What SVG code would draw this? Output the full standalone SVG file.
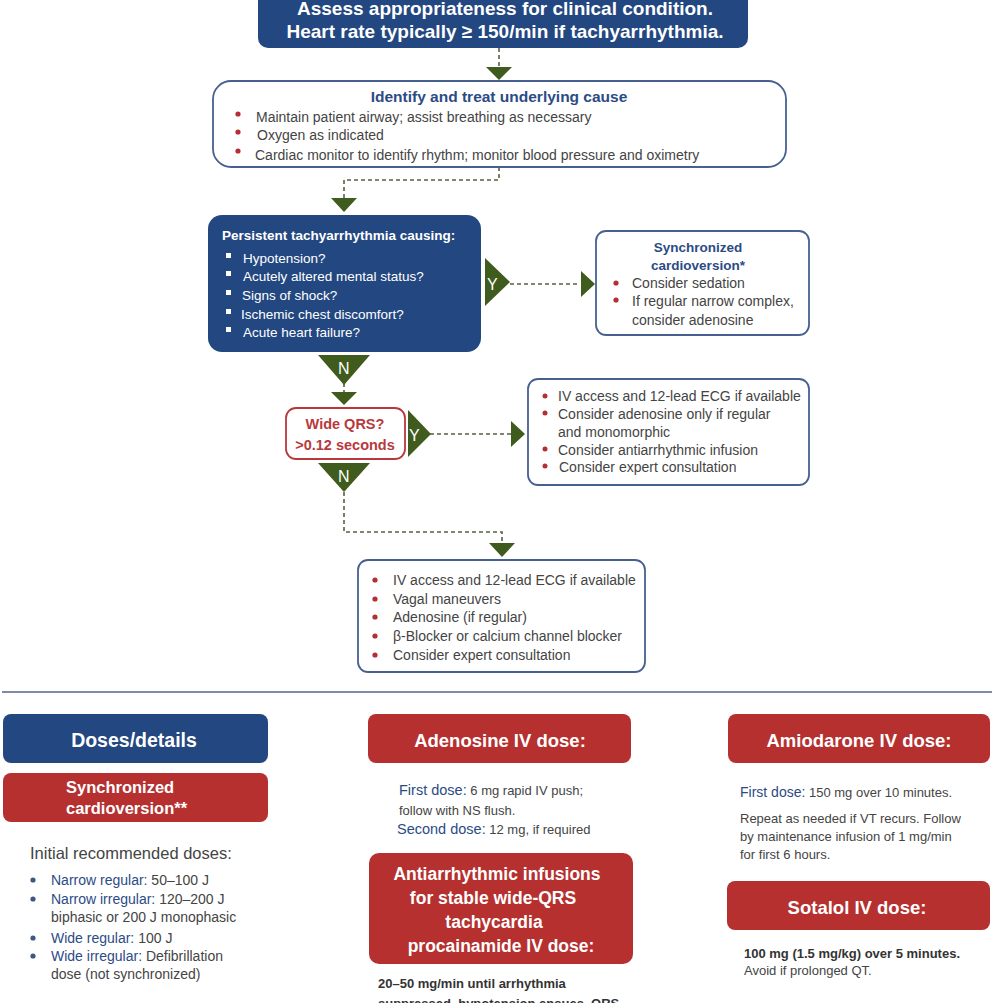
<svg xmlns="http://www.w3.org/2000/svg" width="1002" height="1003" viewBox="0 0 1002 1003">
<style>
text{font-family:"Liberation Sans","Noto Sans",sans-serif;}
.bluebox{fill:#234780;}
.redbox{fill:#b5302f;}
.obox{fill:#fff;stroke:#46618f;stroke-width:1.8;}
.qbox{fill:#fff;stroke:#b8393b;stroke-width:1.8;}
.tri{fill:#3f5b1e;}
.dash{fill:none;stroke:#55613f;stroke-width:1.6;stroke-dasharray:4,3;}
.wt{fill:#fff;font-weight:bold;}
.bt{fill:#2c4b85;font-weight:bold;}
.gt{fill:#444;font-size:14px;}
.rd{fill:#b32f35;}
.wd{fill:#fff;}
.lbl{fill:#2c4b85;}
.tl{fill:#fff;font-size:16px;}
</style>
<rect width="1002" height="1003" fill="#fff"/>
<g id="connectors">
<path class="dash" d="M499,48 V68"/>
<polygon class="tri" points="486,67 512,67 499,80"/>
<path class="dash" d="M499,167 V180 H344 V198"/>
<polygon class="tri" points="331,198 357,198 344,212"/>
<path class="dash" d="M510,284 H580"/>
<polygon class="tri" points="581,271 581,297 595,284"/>
<path class="dash" d="M344,383 V392"/>
<polygon class="tri" points="331,392 357,392 344,405"/>
<path class="dash" d="M430,434 H511"/>
<polygon class="tri" points="511,421 511,447 525,434"/>
<path class="dash" d="M344,492 V532 H502 V543"/>
<polygon class="tri" points="489,543 515,543 502,557"/>
</g>
<g id="decision-labels">
<polygon class="tri" points="485,258 485,306 510,282"/>
<text class="tl" x="487" y="290">Y</text>
<polygon class="tri" points="318,355 370,355 344,385"/>
<text class="tl" x="338" y="374">N</text>
<polygon class="tri" points="408,410 408,457 431,434"/>
<text class="tl" x="409" y="441">Y</text>
<polygon class="tri" points="318,463 370,463 344,492"/>
<text class="tl" x="338" y="482">N</text>
</g>
<g id="assess">
<rect class="bluebox" x="258" y="-20" width="490" height="68" rx="10"/>
<text class="wt" x="505" y="15" text-anchor="middle" font-size="19">Assess appropriateness for clinical condition.</text>
<text class="wt" x="505" y="38" text-anchor="middle" font-size="19">Heart rate typically ≥ 150/min if tachyarrhythmia.</text>
</g>
<g id="identify">
<rect class="obox" x="213" y="81" width="573" height="86" rx="18"/>
<text class="bt" x="499" y="102" text-anchor="middle" font-size="15.5">Identify and treat underlying cause</text>
<circle class="rd" cx="238" cy="114" r="2.6"/>
<circle class="rd" cx="238" cy="132" r="2.6"/>
<circle class="rd" cx="238" cy="151" r="2.6"/>
<text class="gt" x="256" y="122" font-size="14.5">Maintain patient airway; assist breathing as necessary</text>
<text class="gt" x="257" y="140" font-size="14.5">Oxygen as indicated</text>
<text class="gt" x="255" y="160" font-size="14.5">Cardiac monitor to identify rhythm; monitor blood pressure and oximetry</text>
</g>
<g id="persistent">
<rect class="bluebox" x="208" y="215" width="273" height="137" rx="14"/>
<text class="wt" x="222" y="240" font-size="13.5">Persistent tachyarrhythmia causing:</text>
<rect class="wd" x="226" y="253" width="5" height="5"/>
<rect class="wd" x="226" y="271" width="5" height="5"/>
<rect class="wd" x="226" y="290" width="5" height="5"/>
<rect class="wd" x="226" y="309" width="5" height="5"/>
<rect class="wd" x="226" y="327" width="5" height="5"/>
<g fill="#fff" font-size="13.5">
<text x="243" y="263">Hypotension?</text>
<text x="243" y="281">Acutely altered mental status?</text>
<text x="242" y="300">Signs of shock?</text>
<text x="241" y="319">Ischemic chest discomfort?</text>
<text x="243" y="337">Acute heart failure?</text>
</g>
</g>
<g id="sync">
<rect class="obox" x="596" y="231" width="213" height="104" rx="10"/>
<text class="bt" x="698" y="252" text-anchor="middle" font-size="13.5">Synchronized</text>
<text class="bt" x="698" y="270" text-anchor="middle" font-size="13.5">cardioversion*</text>
<circle class="rd" cx="616" cy="283" r="2.6"/>
<circle class="rd" cx="616" cy="300" r="2.6"/>
<text class="gt" x="632" y="288">Consider sedation</text>
<text class="gt" x="632" y="306">If regular narrow complex,</text>
<text class="gt" x="632" y="325">consider adenosine</text>
</g>
<g id="wideqrs">
<rect class="qbox" x="286" y="408" width="119" height="51" rx="10"/>
<text x="345" y="429" text-anchor="middle" font-size="14.5" font-weight="bold" fill="#b8393b">Wide QRS?</text>
<text x="345" y="450" text-anchor="middle" font-size="14.5" font-weight="bold" fill="#b8393b">&gt;0.12 seconds</text>
</g>
<g id="wide-actions">
<rect class="obox" x="528" y="379" width="281" height="106" rx="10"/>
<circle class="rd" cx="545" cy="396" r="2.5"/>
<circle class="rd" cx="545" cy="413" r="2.5"/>
<circle class="rd" cx="545" cy="449" r="2.5"/>
<circle class="rd" cx="545" cy="466" r="2.5"/>
<g class="gt" font-size="13">
<text x="558" y="401">IV access and 12-lead ECG if available</text>
<text x="558" y="419">Consider adenosine only if regular</text>
<text x="558" y="437">and monomorphic</text>
<text x="558" y="455">Consider antiarrhythmic infusion</text>
<text x="559" y="472">Consider expert consultation</text>
</g>
</g>
<g id="narrow-actions">
<rect class="obox" x="358" y="560" width="287" height="112" rx="10"/>
<circle class="rd" cx="375" cy="580" r="2.6"/>
<circle class="rd" cx="375" cy="599" r="2.6"/>
<circle class="rd" cx="375" cy="617" r="2.6"/>
<circle class="rd" cx="375" cy="636" r="2.6"/>
<circle class="rd" cx="375" cy="655" r="2.6"/>
<g class="gt" font-size="13.5">
<text x="393" y="585">IV access and 12-lead ECG if available</text>
<text x="393" y="604">Vagal maneuvers</text>
<text x="393" y="622">Adenosine (if regular)</text>
<text x="393" y="641">β-Blocker or calcium channel blocker</text>
<text x="393" y="660">Consider expert consultation</text>
</g>
</g>
<line x1="2" y1="692" x2="992" y2="692" stroke="#7c8ba6" stroke-width="2"/>
<g id="doses">
<rect class="bluebox" x="3" y="714" width="265" height="49" rx="8"/>
<text x="134" y="747" text-anchor="middle" font-size="19.5" font-weight="bold" fill="#fff">Doses/details</text>
<rect class="redbox" x="3" y="773" width="265" height="49" rx="8"/>
<text class="wt" x="66" y="793" font-size="16.5">Synchronized</text>
<text class="wt" x="66" y="814" font-size="16.5">cardioversion**</text>
<text x="30" y="859" font-size="16.5" fill="#444">Initial recommended doses:</text>
<g fill="#3e5886">
<circle cx="33" cy="880" r="2.6"/>
<circle cx="33" cy="899" r="2.6"/>
<circle cx="33" cy="938" r="2.6"/>
<circle cx="33" cy="956" r="2.6"/>
</g>
<g class="gt" font-size="13">
<text x="51" y="885"><tspan class="lbl">Narrow regular:</tspan> 50–100 J</text>
<text x="51" y="904"><tspan class="lbl">Narrow irregular:</tspan> 120–200 J</text>
<text x="51" y="922">biphasic or 200 J monophasic</text>
<text x="51" y="943"><tspan class="lbl">Wide regular:</tspan> 100 J</text>
<text x="51" y="961"><tspan class="lbl">Wide irregular:</tspan> Defibrillation</text>
<text x="51" y="979">dose (not synchronized)</text>
</g>
</g>
<g id="adenosine">
<rect class="redbox" x="368" y="714" width="263" height="49" rx="8"/>
<text class="wt" x="500" y="747" text-anchor="middle" font-size="18.5">Adenosine IV dose:</text>
<text x="399" y="795" font-size="13" fill="#444"><tspan class="lbl" font-size="14.5">First dose:</tspan> 6 mg rapid IV push;</text>
<text x="399" y="815" font-size="13" fill="#444">follow with NS flush.</text>
<text x="397" y="834" font-size="13" fill="#444"><tspan class="lbl" font-size="14.5">Second dose:</tspan> 12 mg, if required</text>
</g>
<g id="antiarrhythmic">
<rect class="redbox" x="369" y="853" width="264" height="111" rx="10"/>
<text class="wt" x="497" y="880" text-anchor="middle" font-size="17.5">Antiarrhythmic infusions</text>
<text class="wt" x="493" y="904" text-anchor="middle" font-size="17.5">for stable wide-QRS</text>
<text class="wt" x="494" y="928" text-anchor="middle" font-size="17.5">tachycardia</text>
<text class="wt" x="501" y="952" text-anchor="middle" font-size="17.5">procainamide IV dose:</text>
<text x="378" y="988" font-size="13" font-weight="bold" fill="#333">20–50 mg/min until arrhythmia</text>
<text x="378" y="1008" font-size="13" font-weight="bold" fill="#333">suppressed, hypotension ensues, QRS</text>
</g>
<g id="amiodarone">
<rect class="redbox" x="728" y="714" width="262" height="49" rx="8"/>
<text class="wt" x="859" y="747" text-anchor="middle" font-size="18.5">Amiodarone IV dose:</text>
<text x="740" y="797" font-size="13" fill="#444"><tspan class="lbl" font-size="14">First dose:</tspan> 150 mg over 10 minutes.</text>
<text x="740" y="823" font-size="13" fill="#444">Repeat as needed if VT recurs. Follow</text>
<text x="740" y="841" font-size="13" fill="#444">by maintenance infusion of 1 mg/min</text>
<text x="740" y="859" font-size="13" fill="#444">for first 6 hours.</text>
</g>
<g id="sotalol">
<rect class="redbox" x="727" y="881" width="263" height="49" rx="8"/>
<text class="wt" x="857" y="914" text-anchor="middle" font-size="18.5">Sotalol IV dose:</text>
<text x="744" y="958" font-size="13" font-weight="bold" fill="#333">100 mg (1.5 mg/kg) over 5 minutes.</text>
<text x="744" y="975" font-size="13" fill="#444">Avoid if prolonged QT.</text>
</g>
</svg>
